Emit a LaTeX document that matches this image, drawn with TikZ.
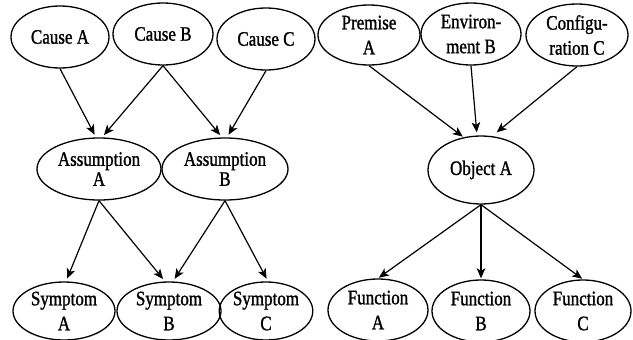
\documentclass[tikz,border=0pt]{standalone}
\usepackage{fontspec}
\setmainfont[FakeStretch=0.83,FakeBold=1.2]{Liberation Serif}
\usetikzlibrary{shapes.geometric,arrows.meta}
\begin{document}
\begin{tikzpicture}[x=1pt,y=-1pt,
  oval/.style={draw,ellipse,line width=1.3pt,inner sep=0pt,align=center,
    font=\fontsize{20.5}{25}\selectfont},
  tight/.style={font=\fontsize{20.5}{20}\selectfont},
  wh/.style 2 args={minimum width=#1,minimum height=#2},
  link/.style={-{Stealth[length=10pt,width=8.5pt,inset=2.5pt]},line width=1.2pt,shorten >=3pt}]
\useasboundingbox (0,0) rectangle (633,340);

% causes, assumptions and symptoms
\node[oval,wh={98pt}{62pt}]  (causeA) at (60,37)  {Cause A};
\node[oval,wh={100pt}{62pt}] (causeB) at (163,34) {Cause B};
\node[oval,wh={98pt}{62pt}]  (causeC) at (266,39) {Cause C};
\node[oval,tight,wh={124pt}{62pt}] (assA) at (99,169)  {Assumption\\A};
\node[oval,tight,wh={126pt}{62pt}] (assB) at (225,169) {Assumption\\B};
\node[oval,wh={102pt}{58pt}] (symA) at (64,311)  {Symptom\\A};
\node[oval,wh={104pt}{58pt}] (symB) at (169,311) {Symptom\\B};
\node[oval,wh={90pt}{58pt}]  (symC) at (266,311) {Symptom\\C};

% premises, object and functions
\node[oval,wh={102pt}{60pt}] (premA) at (369,35) {Premise\\A};
\node[oval,wh={100pt}{62pt}] (envB)  at (471,34) {Environ-\\ment B};
\node[oval,wh={102pt}{62pt}] (confC) at (577,35) {Configu-\\ration C};
\node[oval,wh={106pt}{68pt}] (objA)  at (481,170) {Object A};
\node[oval,wh={100pt}{62pt}] (funA) at (378,310) {Function\\A};
\node[oval,wh={98pt}{62pt}]  (funB) at (481,311) {Function\\B};
\node[oval,wh={96pt}{62pt}]  (funC) at (583,311) {Function\\C};

% links on the left
\draw[link] (causeA.south) -- ([xshift=-3pt]assA.north);
\draw[link] (causeB.south) -- ([xshift=3pt]assA.north);
\draw[link] (causeB.south) -- ([xshift=-3pt]assB.north);
\draw[link] (causeC.south) -- ([xshift=2pt]assB.north);
\draw[link] (assA.south) -- ([xshift=2pt]symA.north);
\draw[link] (assA.south) -- ([xshift=-4pt]symB.north);
\draw[link] (assB.south) -- ([xshift=4pt]symB.north);
\draw[link] (assB.south) -- ([xshift=2pt]symC.north);

% links on the right
\draw[link,shorten >=1pt] (premA.south) -- (objA.118);
\draw[link] (envB.south) -- ([xshift=-4pt]objA.north);
\draw[link,shorten >=6pt] (confC.south) -- (objA.72);
\draw[link,shorten >=1pt] (objA.south) -- (funA.north);
\draw[link,shorten >=1pt] (objA.south) -- (funB.north);
\draw[link,shorten >=1pt] (objA.south) -- (funC.north);
\end{tikzpicture}
\end{document}
